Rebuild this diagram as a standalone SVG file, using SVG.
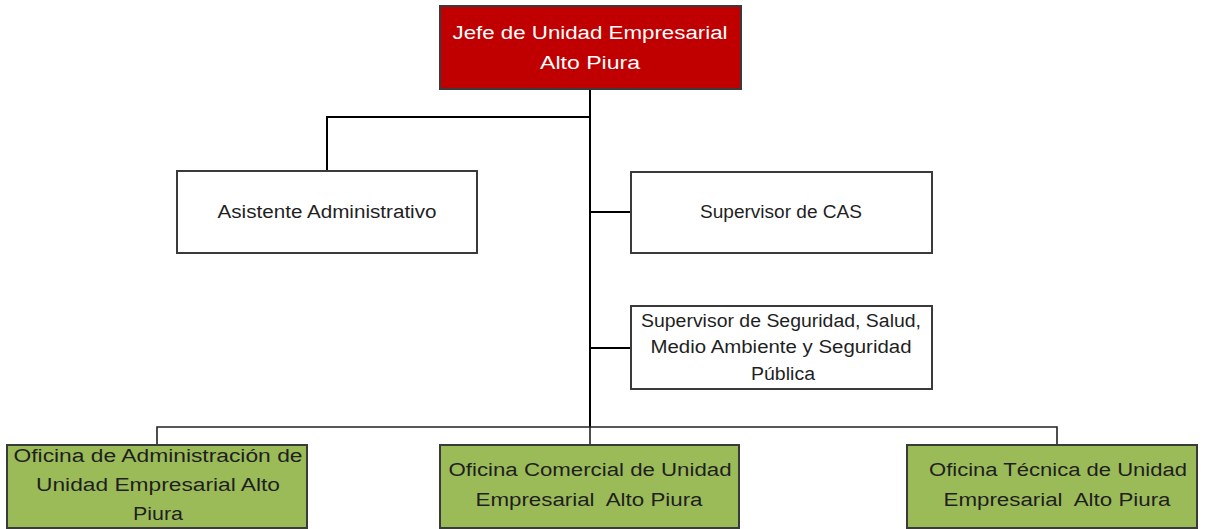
<svg xmlns="http://www.w3.org/2000/svg" width="1207" height="529" viewBox="0 0 1207 529">
<style>
.box{stroke:#3a3a3a;stroke-width:2}
.red{fill:#C00000}
.white{fill:#ffffff}
.green{fill:#9BBB59}
.t{font-family:"Liberation Sans","Open Sans",sans-serif;font-size:18px;text-anchor:middle;dominant-baseline:central;fill:#1f1f1f;white-space:pre}
.tw{fill:#ffffff}
.ln{stroke:#000;stroke-width:2;fill:none}
.ln2{stroke:#222;stroke-width:1.6;fill:none}
</style>
<rect width="1207" height="529" fill="#fff"/>
<g id="connectors">
<path class="ln" d="M590 89 V427"/>
<path class="ln2" d="M590 427 V445"/>
<path class="ln" d="M590 117 H327 V171"/>
<path class="ln" d="M590 212 H631"/>
<path class="ln" d="M590 348 H631"/>
<path class="ln2" d="M157 445 V427 H1057 V445"/>
</g>
<g id="jefe">
<rect class="box red" x="440" y="6" width="301" height="83"/>
<text class="t tw" x="590" y="33" textLength="275" lengthAdjust="spacingAndGlyphs">Jefe de Unidad Empresarial</text>
<text class="t tw" x="590" y="63" textLength="100" lengthAdjust="spacingAndGlyphs">Alto Piura</text>
</g>
<g id="asistente">
<rect class="box white" x="177" y="171" width="300" height="82"/>
<text class="t" x="327" y="212" textLength="219" lengthAdjust="spacingAndGlyphs">Asistente Administrativo</text>
</g>
<g id="supervisor-cas">
<rect class="box white" x="631" y="172" width="301" height="81"/>
<text class="t" x="781" y="212" textLength="162" lengthAdjust="spacingAndGlyphs">Supervisor de CAS</text>
</g>
<g id="supervisor-seguridad">
<rect class="box white" x="631" y="306" width="301" height="83"/>
<text class="t" x="781" y="321" textLength="280" lengthAdjust="spacingAndGlyphs">Supervisor de Seguridad, Salud,</text>
<text class="t" x="781" y="347" textLength="261" lengthAdjust="spacingAndGlyphs">Medio Ambiente y Seguridad</text>
<text class="t" x="783" y="374" textLength="64" lengthAdjust="spacingAndGlyphs">Pública</text>
</g>
<g id="oficina-administracion">
<rect class="box green" x="7" y="445" width="300" height="83"/>
<text class="t" x="158" y="456" textLength="289" lengthAdjust="spacingAndGlyphs">Oficina de Administración de</text>
<text class="t" x="158" y="485" textLength="244" lengthAdjust="spacingAndGlyphs">Unidad Empresarial Alto</text>
<text class="t" x="158" y="514" textLength="50" lengthAdjust="spacingAndGlyphs">Piura</text>
</g>
<g id="oficina-comercial">
<rect class="box green" x="440" y="445" width="299" height="83"/>
<text class="t" x="590" y="470" textLength="283" lengthAdjust="spacingAndGlyphs">Oficina Comercial de Unidad</text>
<text class="t" x="589" y="500" textLength="227" lengthAdjust="spacingAndGlyphs">Empresarial  Alto Piura</text>
</g>
<g id="oficina-tecnica">
<rect class="box green" x="907" y="445" width="290" height="83"/>
<text class="t" x="1058" y="470" textLength="258" lengthAdjust="spacingAndGlyphs">Oficina Técnica de Unidad</text>
<text class="t" x="1057" y="500" textLength="227" lengthAdjust="spacingAndGlyphs">Empresarial  Alto Piura</text>
</g>
</svg>
